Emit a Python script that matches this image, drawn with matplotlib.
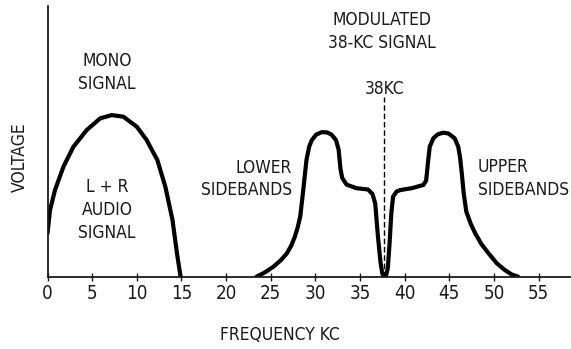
import matplotlib
matplotlib.use('Agg')
import matplotlib.pyplot as plt

# --- DATA (voltage in % of axis height) ---
mono_kc = [0, 0.28, 0.84, 1.78, 2.9, 4.4, 5.9, 7.2, 8.5, 10.0, 11.1, 12.3, 13.2, 14.0, 14.5, 14.9]
mono_v = [16, 24.6, 32, 40.6, 48, 54.2, 58.5, 59.7, 59.1, 55.4, 50.5, 43.1, 33.2, 20.9, 8.6, 0]

side_kc = [23.4, 24.3, 25.3, 26.1, 26.8, 27.3, 27.7, 28.0, 28.3, 28.6, 29.0, 29.3, 29.6, 30.1,
           30.7, 31.3, 31.8, 32.3, 32.6, 32.8, 33.0, 33.5, 34.6, 35.9, 36.4, 36.7, 37.0, 37.3,
           37.5, 37.7, 37.9, 38.1, 38.3, 38.5, 38.7, 39.1, 39.5, 40.8, 42.1, 42.4, 42.6, 42.8,
           43.2, 43.7, 44.3, 44.9, 45.6, 46.0, 46.2, 46.4, 46.6, 46.9, 47.4, 47.9, 48.6, 49.4,
           50.3, 51.2, 52.0, 52.7]
side_v = [0, 1.5, 3.7, 6, 8.6, 11.5, 14.8, 18, 22.2, 30.8, 43.1, 48, 50.5, 52.5,
          53.4, 53.3, 52.5, 50.5, 47, 40, 36.5, 34, 32.7, 32.2, 30.5, 27, 15, 5,
          1, 0.3, 0.3, 3, 12, 23.4, 29.6, 31.5, 32.0, 32.7, 33.9, 35.5, 42, 48,
          51.1, 52.6, 53.2, 52.9, 51.1, 48, 44, 38, 31, 24, 19.5, 16.0, 12, 8.6,
          5, 2.5, 0.8, 0]

carrier_kc = 37.7
xticks = [0, 5, 10, 15, 20, 25, 30, 35, 40, 45, 50, 55]
# ---------------------------------------------------------------

INK = '#1a1a1a'


def draw():
    plt.rcParams['font.family'] = ['DejaVu Sans']
    plt.rcParams['font.stretch'] = 'condensed'  # narrow lettering like the original
    fig = plt.figure(figsize=(5.71, 3.49), dpi=100)
    ax = fig.add_axes([47.5 / 571, 1 - 276.7 / 349, 1 - 47.5 / 571, 270.7 / 349])
    ax.set_xlim(0, 523.5 / 8.93)
    ax.set_ylim(0, 100)

    ax.plot(mono_kc, mono_v, color='black', lw=3, solid_joinstyle='round', solid_capstyle='round')
    ax.plot(side_kc, side_v, color='black', lw=3, solid_joinstyle='round', solid_capstyle='round')
    ax.plot([carrier_kc, carrier_kc], [0, 66.4], color='black', lw=1, ls=(0, (4, 2)))

    for s in ['top', 'right']:
        ax.spines[s].set_visible(False)
    for s in ['left', 'bottom']:
        ax.spines[s].set_linewidth(1.3)
        ax.spines[s].set_color(INK)
    ax.set_yticks([])
    ax.set_xticks(xticks)
    ax.tick_params(axis='x', direction='inout', length=6, width=1, colors=INK,
                   labelsize=13.5, pad=2)

    txt = dict(color=INK, fontsize=12.5, linespacing=1.35, ha='center', va='center')
    ax.text(6.66, 75.4, 'MONO\nSIGNAL', **txt)
    ax.text(6.66, 24.6, 'L + R\nAUDIO\nSIGNAL', **txt)
    ax.text(37.45, 90.6, 'MODULATED\n38-KC SIGNAL', **txt)
    ax.text(37.7, 69.5, '38KC', **txt)
    txt['ha'] = 'right'
    ax.text(27.4, 36.1, 'LOWER\nSIDEBANDS', multialignment='right', **txt)
    txt['ha'] = 'left'
    ax.text(48.2, 36.3, 'UPPER\nSIDEBANDS', multialignment='left', **txt)

    fig.text(20 / 571, 1 - 157 / 349, 'VOLTAGE', rotation=90, ha='center', va='center',
             color=INK, fontsize=12.5)
    fig.text(280 / 571, 1 - 335 / 349, 'FREQUENCY KC', ha='center', va='center',
             color=INK, fontsize=12.5)

    fig.savefig('out.png', dpi=100)


if __name__ == "__main__":
    draw()
